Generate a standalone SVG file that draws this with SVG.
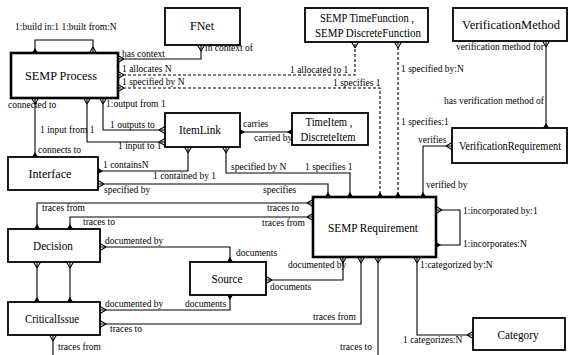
<svg xmlns="http://www.w3.org/2000/svg" width="569" height="355" viewBox="0 0 569 355" font-family="Liberation Serif, Times New Roman, serif">
<style>
.box{fill:#fff;stroke:#000;stroke-width:1.8}
.big{stroke-width:2.6}
.nm{font-size:12px;text-anchor:middle}
.lb{font-size:9.5px}
.c{fill:none;stroke:#000;stroke-width:1.1}
.d{stroke-dasharray:3,2}
</style>
<defs>
<marker id="v" viewBox="-7 -5 8 10" refX="0" refY="0" markerWidth="8" markerHeight="10" markerUnits="userSpaceOnUse" orient="auto-start-reverse">
<path d="M-6,0 L0,-3.5 M-6,0 L0,3.5" fill="none" stroke="#000" stroke-width="1.1"/>
</marker>
<marker id="f" viewBox="-7 -5 8 10" refX="0" refY="0" markerWidth="8" markerHeight="10" markerUnits="userSpaceOnUse" orient="auto-start-reverse">
<path d="M-5,0 L0,-3 L0,3 Z" fill="#000"/>
</marker>
</defs>

<g id="connectors">
<path class="c" d="M35,53 V40 H93 V53" marker-start="url(#f)" marker-end="url(#v)"/>
<path class="c" d="M118,59 H201 V45" marker-start="url(#v)" marker-end="url(#v)"/>
<path class="c d" d="M118,75 H355 V42" marker-start="url(#v)" marker-end="url(#v)"/>
<path class="c d" d="M118,88 H380 V197" marker-start="url(#v)" marker-end="url(#f)"/>
<path class="c d" d="M398,42 V197" marker-start="url(#v)" marker-end="url(#f)"/>
<path class="c" d="M546,41 V128" marker-start="url(#v)" marker-end="url(#f)"/>
<path class="c" d="M452,146 H423 V197" marker-start="url(#v)" marker-end="url(#f)"/>
<path class="c" d="M240,132 H292" marker-start="url(#f)" marker-end="url(#f)"/>
<path class="c" d="M35,98 V157" marker-start="url(#v)" marker-end="url(#f)"/>
<path class="c" d="M103,98 V130 H165" marker-start="url(#v)" marker-end="url(#v)"/>
<path class="c" d="M87,98 V142 H165" marker-start="url(#v)" marker-end="url(#v)"/>
<path class="c" d="M98,171 H188 V147" marker-start="url(#f)" marker-end="url(#v)"/>
<path class="c" d="M98,184 H328 V197" marker-start="url(#v)" marker-end="url(#f)"/>
<path class="c" d="M226,147 V173 H350 V197" marker-start="url(#v)" marker-end="url(#f)"/>
<path class="c" d="M37,229 V203 H313" marker-start="url(#f)" marker-end="url(#v)"/>
<path class="c" d="M70,229 V217 H313" marker-start="url(#f)" marker-end="url(#v)"/>
<path class="c" d="M37,262 V302" marker-start="url(#v)" marker-end="url(#f)"/>
<path class="c" d="M70,262 V302" marker-start="url(#v)" marker-end="url(#f)"/>
<path class="c" d="M100,247 H230 V262" marker-start="url(#v)" marker-end="url(#f)"/>
<path class="c" d="M266,280 H343 V257" marker-start="url(#v)" marker-end="url(#v)"/>
<path class="c" d="M100,310 H230 V295" marker-start="url(#v)" marker-end="url(#f)"/>
<path class="c" d="M100,324 H361 V257" marker-start="url(#v)" marker-end="url(#v)"/>
<path class="c" d="M53,335 V355" marker-start="url(#v)"/>
<path class="c" d="M378,257 V355" marker-start="url(#v)"/>
<path class="c" d="M417,257 V335 H473" marker-start="url(#v)" marker-end="url(#v)"/>
<path class="c" d="M436,210 H460 V245 H436" marker-start="url(#v)" marker-end="url(#f)"/>
</g>

<g id="labels">
<text class="lb" x="15" y="30">1:build in:1 1:built from:N</text>
<text class="lb" x="122" y="57">has context</text>
<text class="lb" x="205" y="51">in context of</text>
<text class="lb" x="122" y="72">1 allocates N</text>
<text class="lb" x="290" y="73">1 allocated to 1</text>
<text class="lb" x="122" y="85">1 specified by N</text>
<text class="lb" x="333" y="86">1 specifies 1</text>
<text class="lb" x="401" y="72">1 specified by:N</text>
<text class="lb" x="401" y="125">1 specifies:1</text>
<text class="lb" x="544" y="50" text-anchor="end">verification method for</text>
<text class="lb" x="544" y="104" text-anchor="end">has verification method  of</text>
<text class="lb" x="418" y="143">verifies</text>
<text class="lb" x="426" y="188">verified by</text>
<text class="lb" x="243" y="127">carries</text>
<text class="lb" x="254" y="141">carried by</text>
<text class="lb" x="8" y="108">connected to</text>
<text class="lb" x="38" y="153">connects to</text>
<text class="lb" x="106" y="107">1:output from 1</text>
<text class="lb" x="110" y="128">1 outputs to</text>
<text class="lb" x="40" y="133">1 input from 1</text>
<text class="lb" x="118" y="149">1 input to 1</text>
<text class="lb" x="103" y="168">1 containsN</text>
<text class="lb" x="153" y="179">1 contained by 1</text>
<text class="lb" x="104" y="193">specified by</text>
<text class="lb" x="263" y="193">specifies</text>
<text class="lb" x="231" y="170">specified by N</text>
<text class="lb" x="305" y="170">1 specifies 1</text>
<text class="lb" x="42" y="211">traces from</text>
<text class="lb" x="267" y="211">traces to</text>
<text class="lb" x="83" y="225">traces to</text>
<text class="lb" x="262" y="226">traces from</text>
<text class="lb" x="105" y="244">documented by</text>
<text class="lb" x="236" y="256">documents</text>
<text class="lb" x="288" y="268">documented by</text>
<text class="lb" x="270" y="290">documents</text>
<text class="lb" x="105" y="307">documented by</text>
<text class="lb" x="185" y="307">documents</text>
<text class="lb" x="110" y="332">traces to</text>
<text class="lb" x="313" y="320">traces from</text>
<text class="lb" x="58" y="350">traces from</text>
<text class="lb" x="340" y="350">traces to</text>
<text class="lb" x="420" y="268">1:categorized by:N</text>
<text class="lb" x="403" y="343">1 categorizes:N</text>
<text class="lb" x="463" y="214">1:incorporated by:1</text>
<text class="lb" x="463" y="247">1:incorporates:N</text>
</g>

<g id="semp-process"><rect class="box big" x="11" y="53" width="107" height="45"/><text class="nm" x="61" y="80" textLength="72" lengthAdjust="spacingAndGlyphs">SEMP Process</text></g>
<g id="fnet"><rect class="box" x="165" y="8" width="75" height="37"/><text class="nm" x="202" y="30" textLength="24" lengthAdjust="spacingAndGlyphs">FNet</text></g>
<g id="semp-timefunction"><rect class="box" x="305" y="8" width="123" height="34"/><text class="nm" x="367" y="22" textLength="94" lengthAdjust="spacingAndGlyphs">SEMP TimeFunction ,</text><text class="nm" x="368" y="37" textLength="106" lengthAdjust="spacingAndGlyphs">SEMP DiscreteFunction</text></g>
<g id="verification-method"><rect class="box" x="453" y="8" width="114" height="33"/><text class="nm" x="511" y="29" textLength="98" lengthAdjust="spacingAndGlyphs">VerificationMethod</text></g>
<g id="item-link"><rect class="box" x="165" y="113" width="75" height="34"/><text class="nm" x="200" y="134" textLength="42" lengthAdjust="spacingAndGlyphs">ItemLink</text></g>
<g id="time-item"><rect class="box" x="292" y="113" width="76" height="32"/><text class="nm" x="329" y="126" textLength="47" lengthAdjust="spacingAndGlyphs">TimeItem ,</text><text class="nm" x="328" y="141" textLength="55" lengthAdjust="spacingAndGlyphs">DiscreteItem</text></g>
<g id="verification-requirement"><rect class="box" x="452" y="128" width="115" height="35"/><text class="nm" x="510" y="150" font-size="10.5" textLength="102" lengthAdjust="spacingAndGlyphs">VerificationRequirement</text></g>
<g id="interface"><rect class="box" x="8" y="157" width="90" height="33"/><text class="nm" x="50" y="178" textLength="43" lengthAdjust="spacingAndGlyphs">Interface</text></g>
<g id="semp-requirement"><rect class="box big" x="313" y="197" width="123" height="60"/><text class="nm" x="373" y="232" textLength="90" lengthAdjust="spacingAndGlyphs">SEMP Requirement</text></g>
<g id="decision"><rect class="box" x="8" y="229" width="92" height="33"/><text class="nm" x="53" y="250" textLength="40" lengthAdjust="spacingAndGlyphs">Decision</text></g>
<g id="source"><rect class="box" x="190" y="262" width="76" height="33"/><text class="nm" x="227" y="283" textLength="31" lengthAdjust="spacingAndGlyphs">Source</text></g>
<g id="critical-issue"><rect class="box" x="8" y="302" width="92" height="33"/><text class="nm" x="52" y="323" textLength="54" lengthAdjust="spacingAndGlyphs">CriticalIssue</text></g>
<g id="category"><rect class="box" x="473" y="318" width="92" height="32"/><text class="nm" x="518" y="339" textLength="41" lengthAdjust="spacingAndGlyphs">Category</text></g>
</svg>
